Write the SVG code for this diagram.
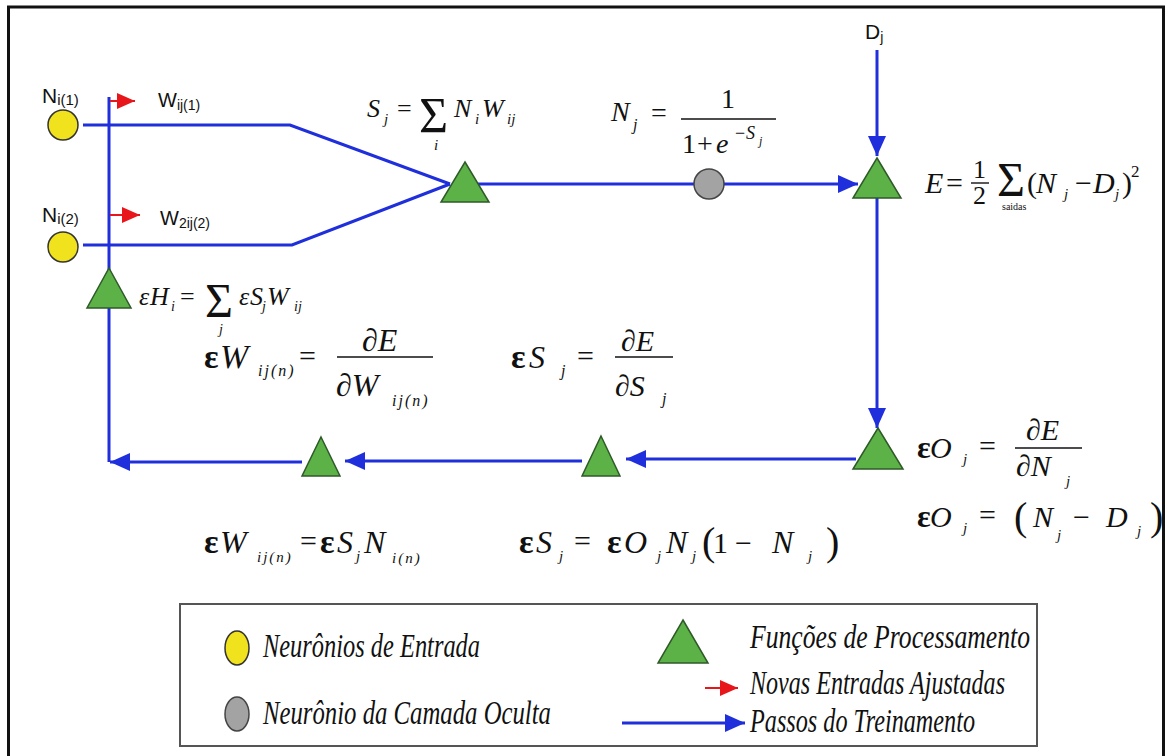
<svg xmlns="http://www.w3.org/2000/svg" width="1167" height="756" viewBox="0 0 1167 756">
<style>
.m{font-family:"Liberation Serif","Times New Roman",serif;font-style:italic;fill:#111}
.u{font-family:"Liberation Serif","Times New Roman",serif;font-style:normal;fill:#111}
.b{font-family:"Liberation Serif","Times New Roman",serif;font-weight:bold;fill:#111}
.s{font-family:"Liberation Sans",Arial,sans-serif;fill:#111}
.tri{fill:#5cb247;stroke:#2e5a28;stroke-width:1.5}
.yel{fill:#f0e21c;stroke:#333;stroke-width:1.5}
.gry{fill:#a3a3a3;stroke:#444;stroke-width:1.5}
.bl{stroke:#1f2fdc;fill:none;stroke-width:3}
.bar{stroke:#111;stroke-width:1.4}
.leg{font-family:"Liberation Serif","Times New Roman",serif;font-style:italic;font-size:34px;fill:#111}
</style>
<defs>
<marker id="ab" markerUnits="userSpaceOnUse" markerWidth="20" markerHeight="18" refX="20" refY="9" orient="auto"><path d="M0,0 L20,9 L0,18 z" fill="#1f2fdc"/></marker>
<marker id="ar" markerUnits="userSpaceOnUse" markerWidth="18" markerHeight="16" refX="18" refY="8" orient="auto"><path d="M0,0 L18,8 L0,16 z" fill="#e8161b"/></marker>
</defs>
<rect x="0" y="0" width="1167" height="756" fill="#fff"/>
<rect x="8.5" y="7" width="1155" height="762" fill="none" stroke="#111" stroke-width="3"/>

<g id="connectors">
<polyline class="bl" points="83,125 290,125 450,184"/>
<polyline class="bl" points="83,245 292,245 450,184"/>
<line class="bl" x1="470" y1="184" x2="858" y2="184" stroke-width="4" marker-end="url(#ab)"/>
<line class="bl" x1="877" y1="50" x2="877" y2="156" marker-end="url(#ab)"/>
<line class="bl" x1="877" y1="198" x2="877" y2="428" marker-end="url(#ab)"/>
<line class="bl" x1="856" y1="459" x2="626" y2="459" stroke-width="4" marker-end="url(#ab)"/>
<line class="bl" x1="582" y1="461" x2="345" y2="461" marker-end="url(#ab)"/>
<line class="bl" x1="302" y1="462" x2="110" y2="462" marker-end="url(#ab)"/>
<line class="bl" x1="109" y1="462" x2="109" y2="97"/>
<line x1="110" y1="101" x2="135" y2="101" stroke="#e8161b" stroke-width="2" marker-end="url(#ar)"/>
<line x1="110" y1="215" x2="140" y2="215" stroke="#e8161b" stroke-width="2" marker-end="url(#ar)"/>
</g>

<g id="node-in1"><circle class="yel" cx="63" cy="125" r="15"/>
<text class="s" x="42" y="103" font-size="21">N<tspan font-size="15" dy="2">i(1)</tspan></text>
<text class="s" x="158" y="107" font-size="20">W<tspan font-size="14" dy="3">ij(1)</tspan></text></g>
<g id="node-in2"><circle class="yel" cx="63" cy="247" r="15"/>
<text class="s" x="42" y="222" font-size="21">N<tspan font-size="15" dy="2">i(2)</tspan></text>
<text class="s" x="160" y="225" font-size="20">W<tspan font-size="14" dy="3">2ij(2)</tspan></text></g>

<g id="node-sum"><polygon class="tri" points="465,162 489,202 441,202"/>
<text class="m" font-size="26"><tspan x="367" y="117">S</tspan><tspan x="384" y="124" font-size="15">j</tspan></text>
<text class="u" font-size="26" x="397" y="117">=</text>
<text class="u" font-size="50" x="419" y="132">Σ</text>
<text class="m" font-size="15" x="434" y="150">i</text>
<text class="m" font-size="26"><tspan x="454" y="117">N</tspan><tspan x="475" y="124" font-size="15">i</tspan><tspan x="482" y="117">W</tspan><tspan x="507" y="124" font-size="15">ij</tspan></text>
</g>

<g id="node-hidden"><circle class="gry" cx="709" cy="184" r="15"/>
<text class="m" font-size="28" x="611" y="121">N</text><text class="m" font-size="16" x="633" y="130">j</text>
<text class="u" font-size="28" x="651" y="122">=</text>
<line class="bar" x1="681" y1="119" x2="776" y2="119"/>
<text class="u" font-size="28" x="721" y="108">1</text>
<text class="u" font-size="28" x="682" y="153">1</text><text class="u" font-size="28" x="697" y="153">+</text><text class="m" font-size="28" x="716" y="153">e</text>
<text class="u" font-size="18" x="735" y="139">−</text><text class="m" font-size="18" x="746" y="139">S</text><text class="m" font-size="12" x="759" y="145">j</text>
</g>

<g id="node-output"><polygon class="tri" points="877,158 901,198 853,198"/>
<text class="s" x="865" y="39" font-size="21">D<tspan font-size="14" dy="3">j</tspan></text>
<text class="m" font-size="30" x="925" y="193">E</text>
<text class="u" font-size="30" x="946" y="193">=</text>
<text class="u" font-size="26" x="973" y="178">1</text>
<line class="bar" x1="971" y1="183" x2="989" y2="183"/>
<text class="u" font-size="26" x="973" y="204">2</text>
<text class="u" font-size="48" x="997" y="196">Σ</text>
<text class="u" font-size="10" x="1002" y="210">saidas</text>
<text class="u" font-size="30" x="1027" y="193">(</text>
<text class="m" font-size="30" x="1036" y="193">N</text><text class="m" font-size="15" x="1064" y="199">j</text>
<text class="u" font-size="30" x="1075" y="193">−</text>
<text class="m" font-size="30" x="1093" y="193">D</text><text class="m" font-size="15" x="1115" y="199">j</text>
<text class="u" font-size="30" x="1122" y="193">)</text>
<text class="u" font-size="17" x="1131" y="177">2</text>
</g>

<g id="node-hidden-err"><polygon class="tri" points="109,268 131,308 87,308"/>
<text class="m" font-size="26" x="139" y="305">ε</text><text class="m" font-size="26" x="150" y="305">H</text><text class="m" font-size="14" x="171" y="311">i</text>
<text class="u" font-size="26" x="180" y="305">=</text>
<text class="u" font-size="48" x="205" y="317">Σ</text>
<text class="m" font-size="14" x="219" y="334">j</text>
<text class="m" font-size="26" x="239" y="305">ε</text><text class="m" font-size="26" x="250" y="305">S</text><text class="m" font-size="14" x="262" y="311">j</text>
<text class="m" font-size="26" x="267" y="305">W</text><text class="m" font-size="14" x="294" y="311">ij</text>
</g>

<g id="eq-dW">
<text class="b" font-size="34" x="204" y="368">ε</text><text class="m" font-size="34" x="220" y="368">W</text>
<text class="m" font-size="16" x="258" y="376" letter-spacing="2">ij(n)</text>
<text class="u" font-size="30" x="299" y="366">=</text>
<line class="bar" x1="337" y1="357" x2="433" y2="357"/>
<text class="m" font-size="32" x="362" y="351">∂E</text>
<text class="m" font-size="32" x="336" y="396">∂W</text>
<text class="m" font-size="16" x="392" y="406" letter-spacing="2">ij(n)</text>
</g>
<g id="eq-dS">
<text class="b" font-size="34" x="511" y="368">ε</text><text class="m" font-size="32" x="529" y="368">S</text><text class="m" font-size="16" x="561" y="376">j</text>
<text class="u" font-size="30" x="577" y="366">=</text>
<line class="bar" x1="615" y1="357" x2="673" y2="357"/>
<text class="m" font-size="30" x="621" y="351">∂E</text>
<text class="m" font-size="30" x="615" y="396">∂S</text><text class="m" font-size="16" x="662" y="404">j</text>
</g>

<g id="node-b1"><polygon class="tri" points="321,437 340,476 302,476"/></g>
<g id="node-b2"><polygon class="tri" points="601,436 620,476 582,476"/></g>
<g id="node-b3"><polygon class="tri" points="878,428 903,469 853,469"/>
<text class="b" font-size="32" x="917" y="458">ε</text><text class="m" font-size="30" x="930" y="458">O</text><text class="m" font-size="15" x="963" y="464">j</text>
<text class="u" font-size="30" x="979" y="456">=</text>
<line class="bar" x1="1015" y1="448" x2="1082" y2="448"/>
<text class="m" font-size="30" x="1026" y="440">∂E</text>
<text class="m" font-size="30" x="1016" y="476">∂N</text><text class="m" font-size="15" x="1066" y="486">j</text>
<text class="b" font-size="32" x="917" y="527">ε</text><text class="m" font-size="30" x="930" y="527">O</text><text class="m" font-size="15" x="963" y="533">j</text>
<text class="u" font-size="30" x="979" y="525">=</text>
<text class="u" font-size="40" x="1014" y="530">(</text>
<text class="m" font-size="30" x="1033" y="527">N</text><text class="m" font-size="15" x="1057" y="540">j</text>
<text class="u" font-size="30" x="1073" y="527">−</text>
<text class="m" font-size="30" x="1106" y="527">D</text><text class="m" font-size="15" x="1137" y="536">j</text>
<text class="u" font-size="40" x="1150" y="530">)</text>
</g>

<g id="eq-bottom">
<text class="b" font-size="34" x="204" y="553">ε</text><text class="m" font-size="32" x="220" y="553">W</text>
<text class="m" font-size="15" x="257" y="562" letter-spacing="2">ij(n)</text>
<text class="u" font-size="30" x="300" y="551">=</text>
<text class="b" font-size="34" x="320" y="553">ε</text><text class="m" font-size="32" x="337" y="553">S</text><text class="m" font-size="15" x="356" y="561">j</text>
<text class="m" font-size="32" x="364" y="553">N</text><text class="m" font-size="15" x="392" y="563" letter-spacing="2">i(n)</text>
<text class="b" font-size="34" x="519" y="553">ε</text><text class="m" font-size="32" x="536" y="553">S</text><text class="m" font-size="15" x="559" y="561">j</text>
<text class="u" font-size="30" x="574" y="551">=</text>
<text class="b" font-size="34" x="607" y="553">ε</text><text class="m" font-size="32" x="624" y="553">O</text><text class="m" font-size="15" x="657" y="561">j</text>
<text class="m" font-size="32" x="666" y="553">N</text><text class="m" font-size="15" x="692" y="561">j</text>
<text class="u" font-size="40" x="702" y="555">(</text><text class="u" font-size="30" x="713" y="553">1</text>
<text class="u" font-size="30" x="735" y="553">−</text>
<text class="m" font-size="32" x="772" y="553">N</text><text class="m" font-size="15" x="808" y="561">j</text>
<text class="u" font-size="40" x="826" y="555">)</text>
</g>

<g id="legend">
<rect x="180" y="604" width="857" height="142" fill="none" stroke="#555" stroke-width="2"/>
<ellipse class="yel" cx="237" cy="648" rx="12" ry="17"/>
<text class="leg" x="263" y="657" textLength="217" lengthAdjust="spacingAndGlyphs">Neurônios de Entrada</text>
<ellipse class="gry" cx="237" cy="714" rx="12" ry="17"/>
<text class="leg" x="263" y="724" textLength="288" lengthAdjust="spacingAndGlyphs">Neurônio da Camada Oculta</text>
<polygon class="tri" points="683,620 708,663 658,663"/>
<text class="leg" x="750" y="648" textLength="280" lengthAdjust="spacingAndGlyphs">Funções de Processamento</text>
<line x1="705" y1="688" x2="738" y2="688" stroke="#e8161b" stroke-width="2" marker-end="url(#ar)"/>
<text class="leg" x="750" y="694" textLength="255" lengthAdjust="spacingAndGlyphs">Novas Entradas Ajustadas</text>
<line class="bl" x1="622" y1="723" x2="745" y2="723" marker-end="url(#ab)"/>
<text class="leg" x="750" y="732" textLength="225" lengthAdjust="spacingAndGlyphs">Passos do Treinamento</text>
</g>
</svg>
